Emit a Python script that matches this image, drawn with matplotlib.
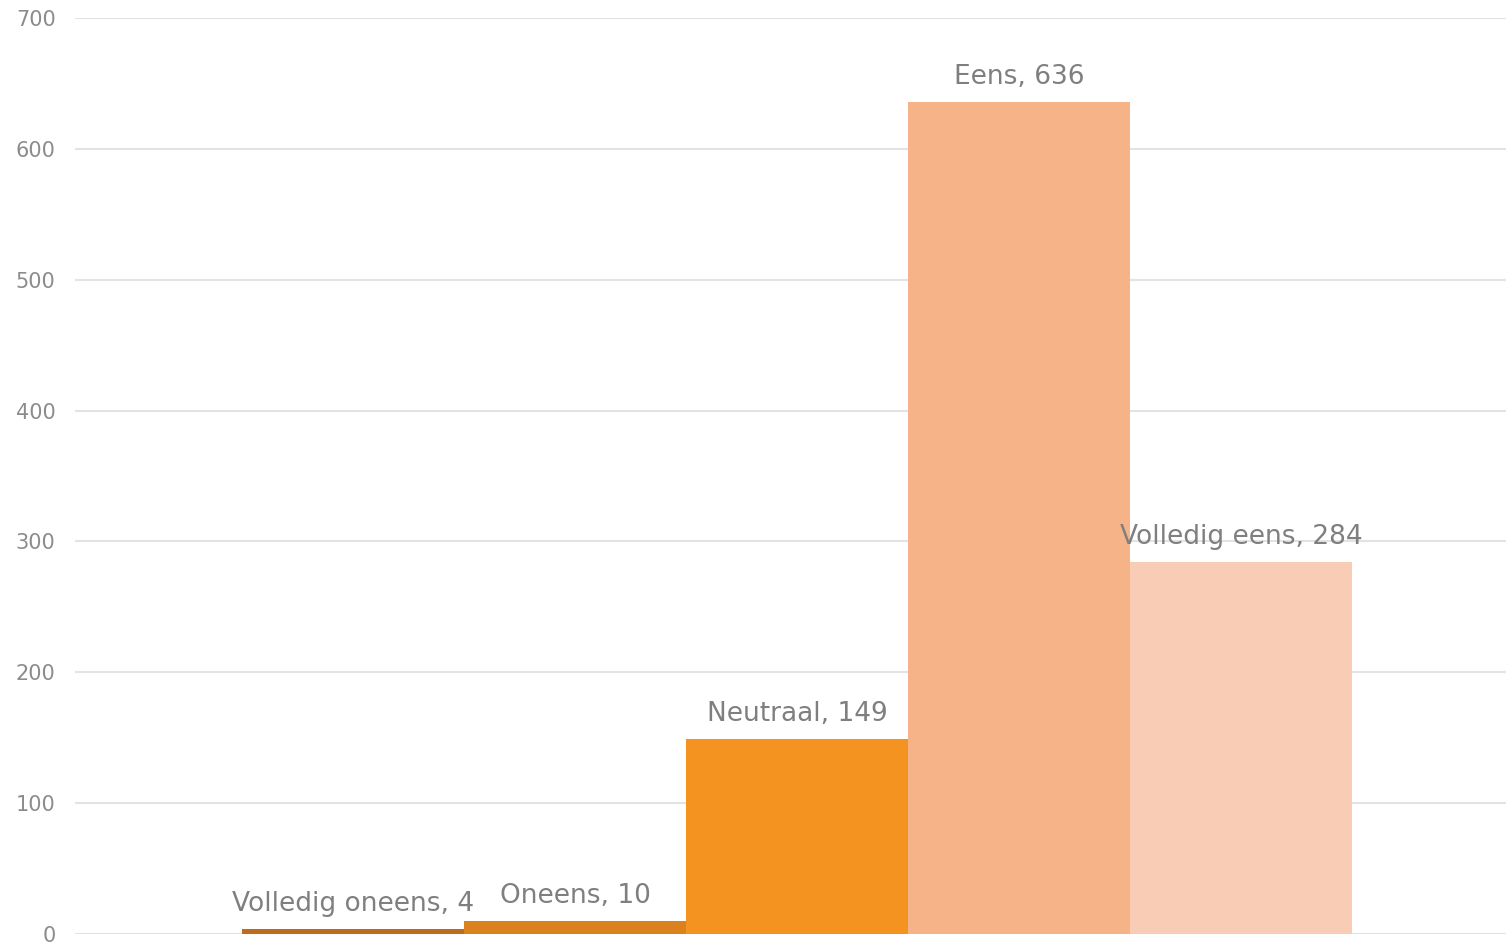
import matplotlib
matplotlib.use("Agg")
import matplotlib.pyplot as plt

categories = ["Volledig oneens", "Oneens", "Neutraal", "Eens", "Volledig eens"]
values = [4, 10, 149, 636, 284]
colors = ["#BE6C1C", "#DB811E", "#F59321", "#F7B388", "#F9CDB5"]
yticks = [0, 100, 200, 300, 400, 500, 600, 700]

plt.rcParams['font.family'] = ['DejaVu Sans']

fig = plt.figure(figsize=(15.06, 9.44), dpi=100)
ax = fig.add_axes([75/1506, 10/944, 1 - 75/1506, (934-18)/944])

offsets = [-2, -1, 0, 1, 2]
for off, cat, val, col in zip(offsets, categories, values, colors):
    ax.bar(off, val, width=1.0, color=col, zorder=2)
    ax.annotate(f"{cat}, {val}", xy=(off, val), xytext=(0, 13), textcoords="offset points",
                ha="center", va="baseline", fontsize=19, color="#7F7F7F", zorder=3)

ax.set_xlim(-3.252, 3.194)
ax.set_ylim(0, 700)
ax.set_yticks(yticks)
ax.set_yticklabels([str(t) for t in yticks])
ax.set_xticks([])
ax.grid(axis="y", color="#E3E3E3", linewidth=1.5, zorder=0)
for s in ax.spines.values():
    s.set_visible(False)
ax.tick_params(axis="y", length=0, pad=14, labelsize=15, labelcolor="#8C8C8C")

fig.savefig("out.png", dpi=100)
